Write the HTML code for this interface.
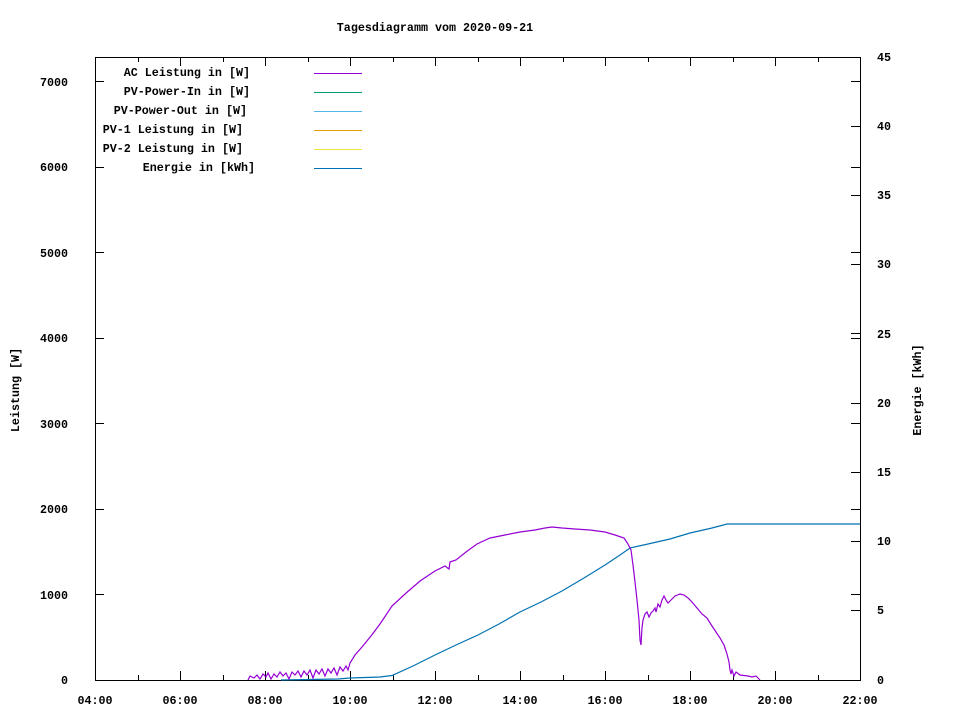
<!DOCTYPE html>
<html><head><meta charset="utf-8"><style>
html,body{margin:0;padding:0;background:#fff}
svg{display:block}
text{font-family:"Liberation Mono","DejaVu Sans Mono",monospace;font-size:11.7px;font-weight:bold;fill:#000}
</style></head><body>
<svg width="960" height="720" viewBox="0 0 960 720" xmlns="http://www.w3.org/2000/svg">
<rect width="960" height="720" fill="#fff"/>
<text x="435" y="31" text-anchor="middle">Tagesdiagramm vom 2020-09-21</text>
<g stroke="#000" stroke-width="1" fill="none" shape-rendering="crispEdges">
<rect x="95.5" y="57.5" width="765" height="623"/>
<path d="M95 680.5h9M95 594.5h9M95 509.5h9M95 423.5h9M95 338.5h9M95 252.5h9M95 167.5h9M95 81.5h9
M860 594.5h-9M860 509.5h-9M860 423.5h-9M860 338.5h-9M860 252.5h-9M860 167.5h-9M860 81.5h-9"/>
<path d="M860 610.5h-9M860 541.5h-9M860 472.5h-9M860 403.5h-9M860 333.5h-9M860 264.5h-9M860 195.5h-9M860 126.5h-9"/>
<path d="M180.5 680v-9M265.5 680v-9M350.5 680v-9M435.5 680v-9M520.5 680v-9M605.5 680v-9M690.5 680v-9M775.5 680v-9
M180.5 57v9M265.5 57v9M350.5 57v9M435.5 57v9M520.5 57v9M605.5 57v9M690.5 57v9M775.5 57v9"/>
<path d="M138.5 680v-5M223.5 680v-5M308.5 680v-5M393.5 680v-5M478.5 680v-5M563.5 680v-5M648.5 680v-5M733.5 680v-5M818.5 680v-5
M138.5 57v5M223.5 57v5M308.5 57v5M393.5 57v5M478.5 57v5M563.5 57v5M648.5 57v5M733.5 57v5M818.5 57v5"/>
</g>
<g text-anchor="end">
<text x="68" y="684">0</text><text x="68" y="599">1000</text><text x="68" y="513">2000</text>
<text x="68" y="428">3000</text><text x="68" y="342">4000</text><text x="68" y="257">5000</text>
<text x="68" y="171">6000</text><text x="68" y="86">7000</text>
</g>
<g>
<text x="877" y="684">0</text><text x="877" y="614">5</text><text x="877" y="545">10</text>
<text x="877" y="476">15</text><text x="877" y="407">20</text><text x="877" y="338">25</text>
<text x="877" y="268">30</text><text x="877" y="199">35</text><text x="877" y="130">40</text>
<text x="877" y="61">45</text>
</g>
<g text-anchor="middle">
<text x="95" y="704">04:00</text><text x="180" y="704">06:00</text><text x="265" y="704">08:00</text>
<text x="350" y="704">10:00</text><text x="435" y="704">12:00</text><text x="520" y="704">14:00</text>
<text x="605" y="704">16:00</text><text x="690" y="704">18:00</text><text x="775" y="704">20:00</text>
<text x="860" y="704">22:00</text>
</g>
<text transform="translate(19,390) rotate(-90)" text-anchor="middle">Leistung [W]</text>
<text transform="translate(921,390) rotate(-90)" text-anchor="middle">Energie [kWh]</text>
<g text-anchor="end">
<text x="250" y="76">AC Leistung in [W]</text>
<text x="250" y="95">PV-Power-In in [W]</text>
<text x="247" y="114">PV-Power-Out in [W]</text>
<text x="243" y="133">PV-1 Leistung in [W]</text>
<text x="243" y="152">PV-2 Leistung in [W]</text>
<text x="255" y="171">Energie in [kWh]</text>
</g>
<g stroke-width="1" shape-rendering="crispEdges">
<path d="M314 73.5h48" stroke="#9400d3"/>
<path d="M314 92.5h48" stroke="#009e73"/>
<path d="M314 111.5h48" stroke="#56b4e9"/>
<path d="M314 130.5h48" stroke="#e69f00"/>
<path d="M314 149.5h48" stroke="#f0e442"/>
<path d="M314 168.5h48" stroke="#0072b2"/>
</g>
<polyline fill="none" stroke="#0072b2" stroke-width="1.2" points="281,680 310,679.5 338,679 350,678 365,677.5 380,677 392,675.5 413,666 435,655 456,645 478,635 499,624 520,612 541,602 562,591 584,578 605,565 620,555 630,548 648,544 670,539 690,533 712,528 727,524 860,524"/>
<polyline fill="none" stroke="#9400d3" stroke-width="1.2" points="248,680 250,676 254,678 257,675 260,679 263,674 266,677 268,673 271,679 274,674 277,677 280,672 283,676 286,673 289,679 292,672 295,675 298,671 301,677 304,671 307,675 310,670 313,678 316,670 319,674 322,669 325,676 328,669 331,673 334,668 337,675 340,667 343,671 346,666 348,670 350,663 355,655 362,647 371,636 380,624 392,606 405,594 420,581 435,571 445,566 449,569 450,562 456,560 466,552 477,544 490,538 505,535 520,532 535,530 545,528 552,527 562,528 575,529 590,530 605,532 615,535 624,538 628,544 631,550 633,565 635,582 637,600 639,620 640,640 641,645 642,628 643,620 645,614 647,612 649,617 651,613 653,611 655,608 656,612 658,604 660,607 662,600 664,596 666,600 668,603 671,600 675,596 680,594 684,595 688,598 692,602 697,608 702,614 707,618 712,626 716,632 720,638 724,645 727,654 729,662 730,670 731,674 732,670 734,676 736,672 740,675 748,676 752,677 756,676 760,680"/>
</svg>
</body></html>
